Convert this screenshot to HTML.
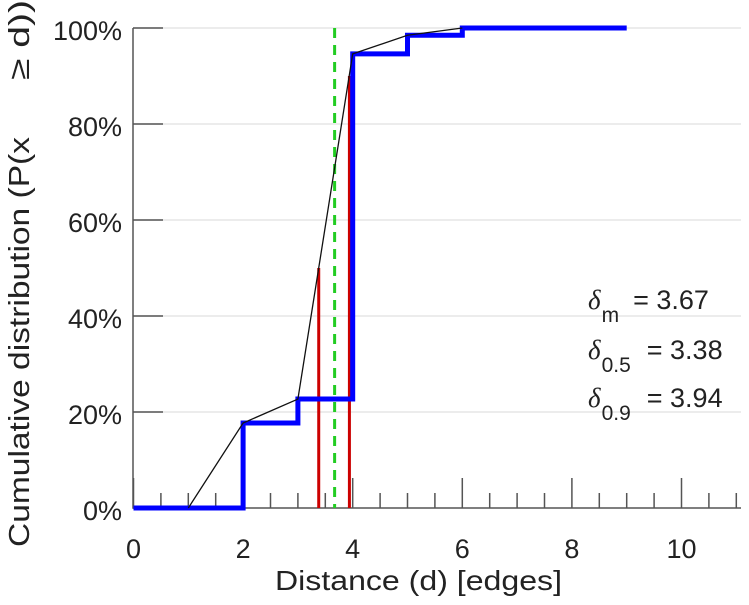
<!DOCTYPE html>
<html><head><meta charset="utf-8"><style>
body{margin:0;background:#fff;width:749px;height:600px;overflow:hidden}
svg text{font-family:"Liberation Sans",sans-serif;fill:#222}
</style></head><body>
<svg id="chart" width="749" height="600" viewBox="0 0 749 600" xmlns="http://www.w3.org/2000/svg">
<g id="grid"></g>
<g id="axes"></g>
<g id="marks"></g>
<text x="275" y="590" font-size="28" textLength="287" lengthAdjust="spacingAndGlyphs">Distance (d) [edges]</text>
<g font-size="29">
<text transform="translate(29,547) rotate(-90)" textLength="410" lengthAdjust="spacingAndGlyphs">Cumulative distribution (P(x</text>
<text transform="translate(29,80) rotate(-90)" textLength="80" lengthAdjust="spacingAndGlyphs">≥ d))</text>
</g>
<g font-size="27">
<text x="588" y="309"><tspan font-style="italic" font-family="Liberation Serif">δ</tspan><tspan dx="1" dy="13" font-size="21">m</tspan><tspan dx="14" dy="-13">= 3.67</tspan></text>
<text x="588" y="359"><tspan font-style="italic" font-family="Liberation Serif">δ</tspan><tspan dx="1" dy="13" font-size="21">0.5</tspan><tspan dx="16" dy="-13">= 3.38</tspan></text>
<text x="588" y="407"><tspan font-style="italic" font-family="Liberation Serif">δ</tspan><tspan dx="1" dy="13" font-size="21">0.9</tspan><tspan dx="16" dy="-13">= 3.94</tspan></text>
</g>
</svg>
<script>
const stepX=[0,2,3,4,5,6,9];
const stepY=[0,17.7,22.7,94.6,98.5,100,100];
const lineX=[1,2,3,4,5,6];
const lineY=[0,17.7,22.7,94.6,98.5,100];
const quantX=[3.38,3.94];
const quantY=[50,90];
const meanX=[3.67];
const xTicks=[0,2,4,6,8,10];
const yTicks=[0,20,40,60,80,100];
const NS="http://www.w3.org/2000/svg";
const X=v=>133.5+v*54.8;
const Y=v=>508-v*4.8;
function mk(p,t,a){const e=document.createElementNS(NS,t);for(const k in a)e.setAttribute(k,a[k]);p.appendChild(e);return e;}
const grid=document.getElementById('grid'),axes=document.getElementById('axes'),marks=document.getElementById('marks');
yTicks.forEach(v=>{
 if(v>0){const g=mk(grid,'line',{x1:133,x2:741,y1:Y(v),y2:Y(v),stroke:'#e6e6e6','stroke-width':1.5});
 
 }
 const t=mk(axes,'line',{x1:133,x2:163,y1:Y(v),y2:Y(v),stroke:'#555','stroke-width':1.5});
 
 
 const l=mk(axes,'text',{x:122,y:Y(v)+12,'text-anchor':'end','font-size':27});l.textContent=v+'%';
 
 
});
for(let v=0;v<=11.01;v+=0.5){
 const major=Math.abs(v-Math.round(v/2)*2)<1e-6;
 const t=mk(axes,'line',{x1:X(v),x2:X(v),y1:major?478:493,y2:508,stroke:'#555','stroke-width':1.5});
 
 
}
xTicks.forEach(v=>{const l=mk(axes,'text',{x:X(v),y:558,'text-anchor':'middle','font-size':27});l.textContent=v;
 
 });
const ax=mk(axes,'path',{d:`M133,28V508H741`,fill:'none',stroke:'#555','stroke-width':1.5});


quantX.forEach((q,i)=>{const r=mk(marks,'line',{x1:X(q),x2:X(q),y1:Y(0),y2:Y(quantY[i]),stroke:'#cc0000','stroke-width':3});
 
 });
meanX.forEach(m=>{const g=mk(marks,'line',{x1:X(m),x2:X(m),y1:Y(100),y2:Y(0),stroke:'#22cc22','stroke-width':3,'stroke-dasharray':'10,7'});
 
 });
let d=`M${X(stepX[0])},${Y(stepY[0])}`;for(let i=1;i<stepX.length;i++){d+=`H${X(stepX[i])}`;if(i<stepX.length-1)d+=`V${Y(stepY[i])}`;}
const s=mk(marks,'path',{d:d,fill:'none',stroke:'#0000ff','stroke-width':5});


const ln=mk(marks,'polyline',{points:lineX.map((x,i)=>X(x)+','+Y(lineY[i])).join(' '),fill:'none',stroke:'#111','stroke-width':1.3});


</script>
</body></html>
